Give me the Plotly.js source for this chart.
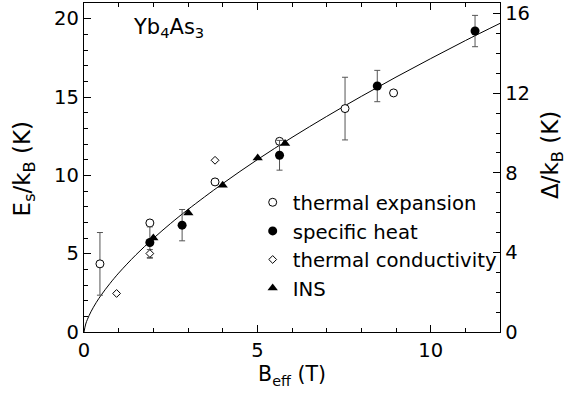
<!DOCTYPE html>
<html>
<head>
<meta charset="utf-8">
<script src="https://cdn.plot.ly/plotly-3.0.1.min.js"></script>
<style>
  html, body { margin: 0; padding: 0; background: #fff; }
  #chart { width: 584px; height: 398px; }
</style>
</head>
<body>
<div id="chart"></div>
<script>
// Soliton gap of Yb4As3 versus effective field

// thermal expansion (open circles)
const thermExpB   = [0.46, 1.90, 3.78, 5.64, 7.53, 8.93];
const thermExpE   = [4.35, 6.96, 9.58, 12.17, 14.26, 15.26];
const thermExpErr = [2.0, NaN, NaN, NaN, 2.0, NaN];

// specific heat (filled circles)
const specHeatB   = [1.90, 2.83, 5.64, 8.46, 11.28];
const specHeatE   = [5.71, 6.82, 11.28, 15.70, 19.21];
const specHeatErr = [1.0, 1.0, 0.95, 1.0, 1.0];

// thermal conductivity (open diamonds)
const thermCondB   = [0.94, 1.90, 3.78];
const thermCondE   = [2.46, 5.01, 10.96];
const thermCondErr = [NaN, 0.25, NaN];

// inelastic neutron scattering (filled triangles)
const insB = [2.00, 3.01, 4.00, 5.01, 5.80];
const insE = [6.00, 7.60, 9.37, 11.10, 12.03];

// guide curve through the data
const fitB = [0, 0.05, 0.1, 0.2, 0.35, 0.5, 0.75, 1, 1.5, 2, 2.5, 3, 4, 5, 6, 7, 8, 9, 10, 11, 12];
const fitE = [0, 0.51, 0.81, 1.29, 1.87, 2.37, 3.10, 3.76, 4.93, 5.97, 6.93, 7.82, 9.47, 11.0, 12.42, 13.76, 15.04, 16.27, 17.45, 18.60, 19.70];

// axis ranges (right axis is the same energy expressed as Δ/kB)
const xRange  = [0, 12];
const yRange  = [0, 21];
const y2Range = [0, 16.535];

const FONT = 'DejaVu Sans, Verdana, sans-serif';
const errStyle = { type: 'data', color: '#555', thickness: 1, width: 3 };

const traces = [
  {
    x: fitB, y: fitE, mode: 'lines', line: { color: '#000', width: 1, shape: 'spline' },
    showlegend: false, hoverinfo: 'skip'
  },
  {
    name: 'thermal expansion', x: thermExpB, y: thermExpE, mode: 'markers',
    marker: { symbol: 'circle', size: 8, color: '#fff', line: { color: '#000', width: 1 } },
    error_y: Object.assign({ array: thermExpErr }, errStyle)
  },
  {
    name: 'specific heat', x: specHeatB, y: specHeatE, mode: 'markers',
    marker: { symbol: 'circle', size: 9, color: '#000' },
    error_y: Object.assign({ array: specHeatErr }, errStyle)
  },
  {
    name: 'thermal conductivity', x: thermCondB, y: thermCondE, mode: 'markers',
    marker: { symbol: 'diamond', size: 6, color: '#fff', line: { color: '#000', width: 1 } },
    error_y: Object.assign({ array: thermCondErr }, errStyle)
  },
  {
    name: 'INS', x: insB, y: insE, mode: 'markers',
    marker: { symbol: 'triangle-up', size: 9, color: '#000' }
  },
  {
    // carries the right-hand axis
    x: [0], y: [0], yaxis: 'y2', mode: 'markers', marker: { opacity: 0 },
    showlegend: false, hoverinfo: 'skip'
  }
];

const axisCommon = {
  showgrid: false, zeroline: false, showline: true, linecolor: '#000', linewidth: 1.3,
  ticks: 'inside', ticklen: 7, tickwidth: 1, tickcolor: '#000',
  tickfont: { family: FONT, size: 19.5, color: '#000' }
};
const minorTicks = { dtick: 1, ticks: 'inside', ticklen: 4, tickcolor: '#000' };

const layout = {
  width: 584, height: 398,
  margin: { l: 84, r: 84, t: 3, b: 66 },
  paper_bgcolor: '#fff', plot_bgcolor: '#fff',
  font: { family: FONT, color: '#000' },
  xaxis: Object.assign({}, axisCommon, {
    range: xRange, dtick: 5, mirror: 'ticks', minor: minorTicks,
    title: { text: 'B<sub>eff</sub> (T)', font: { family: FONT, size: 20.5 }, standoff: 6 }
  }),
  yaxis: Object.assign({}, axisCommon, {
    range: yRange, dtick: 5, minor: minorTicks
  }),
  yaxis2: Object.assign({}, axisCommon, {
    range: y2Range, dtick: 4, overlaying: 'y', side: 'right', minor: minorTicks
  }),
  legend: {
    x: 0.4055, y: 0.453, xanchor: 'left', yanchor: 'top',
    bgcolor: 'rgba(0,0,0,0)', borderwidth: 0,
    font: { family: FONT, size: 19.7, color: '#000' }
  },
  annotations: [
    {
      text: 'Yb<sub>4</sub>As<sub>3</sub>', xref: 'paper', yref: 'paper',
      x: 0.113, y: 0.925, xanchor: 'left', yanchor: 'middle', showarrow: false,
      font: { family: FONT, size: 21, color: '#000' }
    },
    {
      text: 'E<sub>s</sub>/k<sub>B</sub> (K)', xref: 'paper', yref: 'paper',
      x: -0.142, y: 0.497, xanchor: 'center', yanchor: 'middle', textangle: -90,
      showarrow: false, font: { family: FONT, size: 23, color: '#000' }
    },
    {
      text: 'Δ/k<sub>B</sub> (K)', xref: 'paper', yref: 'paper',
      x: 1.125, y: 0.538, xanchor: 'center', yanchor: 'middle', textangle: -90,
      showarrow: false, font: { family: FONT, size: 23, color: '#000' }
    }
  ],
  showlegend: true
};

Plotly.newPlot('chart', traces, layout, { staticPlot: true, displayModeBar: false });
</script>
</body>
</html>
